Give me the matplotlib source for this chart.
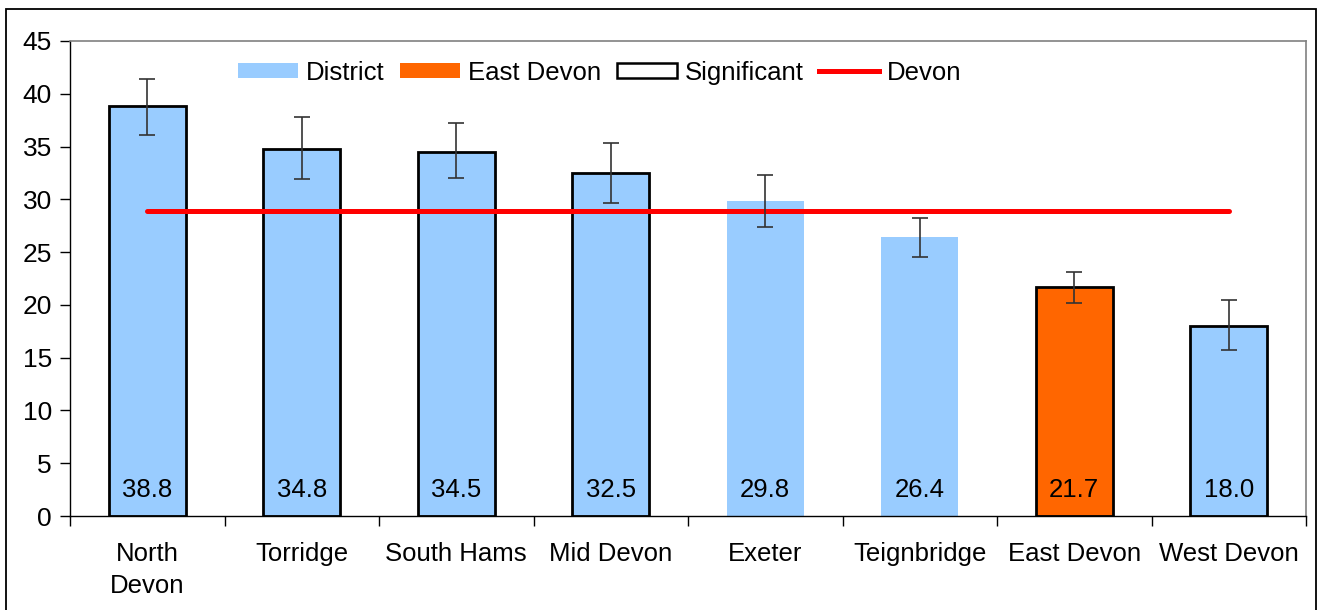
import matplotlib
matplotlib.use("Agg")
import matplotlib.pyplot as plt
from matplotlib.patches import Rectangle, Patch
from matplotlib.lines import Line2D
import numpy as np

plt.rcParams['font.family'] = ['Liberation Sans', 'DejaVu Sans']

districts = ["North\nDevon", "Torridge", "South Hams", "Mid Devon", "Exeter",
             "Teignbridge", "East Devon", "West Devon"]
values = [38.8, 34.8, 34.5, 32.5, 29.8, 26.4, 21.7, 18.0]
upper = [41.4, 37.8, 37.2, 35.3, 32.3, 28.2, 23.1, 20.5]
lower = [36.1, 31.9, 32.0, 29.7, 27.4, 24.5, 20.2, 15.7]
significant = [True, True, True, True, False, False, True, True]
highlight = "East Devon"
devon_value = 28.9

district_color = "#99CCFF"
east_color = "#FF6600"

fig = plt.figure(figsize=(13.19, 6.10), dpi=100)
ax = fig.add_axes([70/1319, 94/610, (1306-70)/1319, (516-41)/610])

x = np.arange(len(values))
colors = [east_color if d == highlight else district_color for d in districts]
for xi, v, c, s in zip(x, values, colors, significant):
    ax.bar(xi, v, width=0.5, color=c,
           edgecolor="black" if s else "none",
           linewidth=2.0 if s else 0, zorder=2)

yerr = [np.array(values) - np.array(lower), np.array(upper) - np.array(values)]
ax.errorbar(x, values, yerr=yerr, fmt="none", ecolor="#333333",
            elinewidth=1.2, capsize=6, capthick=1.2, zorder=4)

ax.plot([x[0], x[-1]], [devon_value, devon_value], color="#FF0000",
        linewidth=3.6, solid_capstyle="round", zorder=3)

for xi, v in zip(x, values):
    ax.text(xi, 2.5, f"{v:.1f}", ha="center", va="center", fontsize=18.5,
            color="black", zorder=5)

ax.set_xlim(-0.5, len(values) - 0.5)
ax.set_ylim(0, 45)
ax.set_yticks(np.arange(0, 46, 5))
ax.tick_params(axis="y", labelsize=19, length=7, width=1, direction="out", pad=6)
ax.set_xticks(x)
ax.set_xticklabels(districts, fontsize=18.5, linespacing=1.4)
ax.tick_params(axis="x", which="major", length=0, pad=19)
ax.set_xticks(np.arange(-0.5, len(values), 1), minor=True)
ax.tick_params(axis="x", which="minor", length=7, width=1, direction="out")

for side in ["top", "right"]:
    ax.spines[side].set_color("#808080")
    ax.spines[side].set_linewidth(1.2)
for side in ["left", "bottom"]:
    ax.spines[side].set_color("black")
    ax.spines[side].set_linewidth(1.0)

handles = [Patch(facecolor=district_color, edgecolor="none"),
           Patch(facecolor=east_color, edgecolor="none"),
           Patch(facecolor="white", edgecolor="black", linewidth=1.8),
           Line2D([0], [0], color="#FF0000", linewidth=3.6)]
labels = ["District", "East Devon", "Significant", "Devon"]
ax.legend(handles, labels, loc="center", bbox_to_anchor=(0.4285, 0.933), ncol=4,
          frameon=False, fontsize=18.5, handlelength=2.35, handleheight=0.55,
          handletextpad=0.3, columnspacing=0.6, borderaxespad=0)

fig.patches.append(Rectangle((6/1319, -0.05), (1316-6)/1319, 1.05 - 9/610,
                             transform=fig.transFigure, fill=False,
                             edgecolor="black", linewidth=1.3))

fig.savefig("out.png", dpi=100)
